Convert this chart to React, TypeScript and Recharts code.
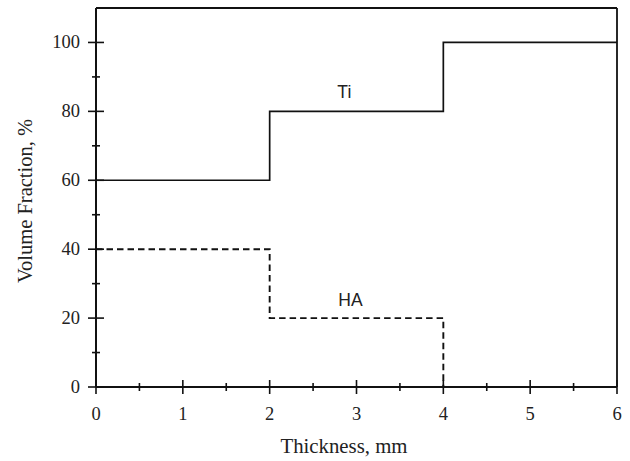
import React from 'react';
import { LineChart, Line, XAxis, YAxis, ReferenceLine, ReferenceDot } from 'recharts';

// ---- data ----
const tiThickness = [0, 2, 4, 6];
const tiFraction = [60, 80, 100, 100];
const haThickness = [0, 2, 4];
const haFraction = [40, 20, 0];
const xTicks = [0, 0.5, 1, 1.5, 2, 2.5, 3, 3.5, 4, 4.5, 5, 5.5, 6];
const yTicks = [0, 10, 20, 30, 40, 50, 60, 70, 80, 90, 100];
const xLabel = 'Thickness, mm';
const yLabel = 'Volume Fraction, %';

const tiData = tiThickness.map((t, i) => ({ t, v: tiFraction[i] }));
const haData = haThickness.map((t, i) => ({ t, v: haFraction[i] }));

// ---- layout / style ----
const W = 630;
const H = 461;
const MARGIN = { top: 8, right: 13, bottom: 0, left: 0 };
const Y_AXIS_W = 96;
const X_AXIS_H = 74;
const SERIF = '"Liberation Serif", "Times New Roman", serif';
const SANS = '"Liberation Sans", Arial, sans-serif';
const INK = '#111';
const TEXT = '#222';

const XTick = (props: any) => {
  const { x, y, payload } = props;
  const v = payload.value;
  const major = Number.isInteger(v);
  const len = major ? 7 : 4;
  return (
    <g>
      <line x1={x} x2={x} y1={y - len} y2={y + len} stroke={INK} strokeWidth={1.6} />
      {major && (
        <text x={x} y={y + 33} textAnchor="middle" fontFamily={SERIF} fontSize={18.5} fill={TEXT}>
          {v}
        </text>
      )}
    </g>
  );
};

const YTick = (props: any) => {
  const { x, y, payload } = props;
  const v = payload.value;
  const major = v % 20 === 0;
  const len = major ? 8 : 4;
  return (
    <g>
      <line x1={x - len} x2={x + len} y1={y} y2={y} stroke={INK} strokeWidth={1.6} />
      {major && (
        <text x={x - 16} y={y + 6} textAnchor="end" fontFamily={SERIF} fontSize={18.5} fill={TEXT}>
          {v}
        </text>
      )}
    </g>
  );
};

const XTitle = () => (
  <text x={344} y={453} textAnchor="middle" fontFamily={SERIF} fontSize={20.8} fill={TEXT}>
    {xLabel}
  </text>
);

const YTitle = () => {
  const cx = 32;
  const cy = 201;
  return (
    <text
      x={cx}
      y={cy}
      transform={`rotate(-90 ${cx} ${cy})`}
      textAnchor="middle"
      fontFamily={SERIF}
      fontSize={20.5}
      fill={TEXT}
    >
      {yLabel}
    </text>
  );
};

export default function App() {
  return (
    <div style={{ position: 'absolute', left: 0, top: 0, width: W, height: H, background: '#fff' }}>
      <LineChart width={W} height={H} margin={MARGIN}>
        <XAxis
          dataKey="t"
          type="number"
          domain={[0, 6]}
          ticks={xTicks}
          interval={0}
          height={X_AXIS_H}
          tickSize={0}
          tickMargin={0}
          tickLine={false}
          tick={<XTick />}
          axisLine={{ stroke: INK, strokeWidth: 2 }}
          allowDataOverflow
          label={{ content: () => <XTitle /> }}
        />
        <YAxis
          type="number"
          domain={[0, 110]}
          ticks={yTicks}
          interval={0}
          width={Y_AXIS_W}
          tickSize={0}
          tickMargin={0}
          tickLine={false}
          tick={<YTick />}
          axisLine={{ stroke: INK, strokeWidth: 2 }}
          allowDataOverflow
          label={{ content: () => <YTitle /> }}
        />
        <ReferenceLine y={110} stroke={INK} strokeWidth={1.8} />
        <ReferenceLine x={6} stroke={INK} strokeWidth={1.8} />
        <Line
          data={tiData}
          dataKey="v"
          type="stepAfter"
          stroke={INK}
          strokeWidth={1.7}
          dot={false}
          activeDot={false}
          isAnimationActive={false}
        />
        <Line
          data={haData}
          dataKey="v"
          type="stepAfter"
          stroke={INK}
          strokeWidth={1.9}
          strokeDasharray="6.5 4"
          dot={false}
          activeDot={false}
          isAnimationActive={false}
        />
        <ReferenceDot
          x={2.86}
          y={85.8}
          r={0}
          fill="none"
          stroke="none"
          label={{ value: 'Ti', position: 'center', fill: TEXT, fontSize: 17.5, fontFamily: SANS }}
        />
        <ReferenceDot
          x={2.93}
          y={25.2}
          r={0}
          fill="none"
          stroke="none"
          label={{ value: 'HA', position: 'center', fill: TEXT, fontSize: 17.5, fontFamily: SANS }}
        />
      </LineChart>
    </div>
  );
}
